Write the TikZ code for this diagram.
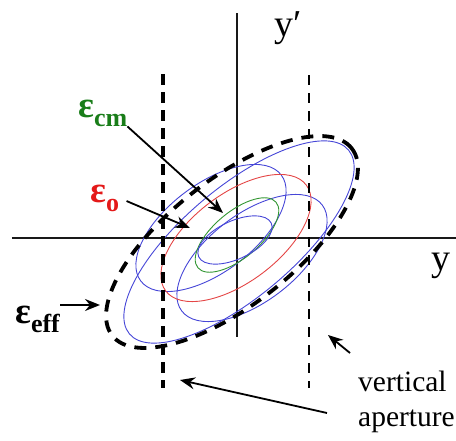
\documentclass[tikz,border=0pt]{standalone}
\usepackage{fontspec}
\setmainfont{Liberation Serif}
\usetikzlibrary{arrows.meta}
\definecolor{ellblue}{RGB}{70,70,215}
\definecolor{ellred}{RGB}{228,70,70}
\definecolor{ellgreen}{RGB}{50,150,50}
\definecolor{labgreen}{RGB}{25,125,25}
\definecolor{labred}{RGB}{228,25,25}
\newcommand{\emitlabel}[1]{{\bfseries\fontsize{37}{37}\selectfont ε\lower9pt\hbox{\fontsize{26}{26}\selectfont #1}}}

\begin{document}
\begin{tikzpicture}[x=1pt,y=1pt,
  axis/.style={line width=1.8pt, black!90},
  beam/.style={line width=0.9pt},
  envel/.style={line width=3.8pt, dash pattern=on 12pt off 9pt},
  apleft/.style={line width=3.4pt, dash pattern=on 11pt off 7pt},
  apright/.style={line width=1.8pt, dash pattern=on 10pt off 8pt},
  pointer/.style={line width=1.8pt, -{Stealth[length=15pt,width=12pt,inset=5pt]}},
  lbl/.style={inner sep=0pt}]
  \useasboundingbox (-237,-202) rectangle (219,238);
  % axes
  \coordinate (xl) at (-225,0);
  \coordinate (xr) at (219,0);
  \coordinate (yt) at (0,225);
  \coordinate (yb) at (0,-99);
  \draw[axis] (xl) -- (xr);
  \draw[axis] (yt) -- (yb);
  \node[lbl, font=\fontsize{38}{38}\selectfont] (ylab) at (204,-28) {y};
  \node[lbl, font=\fontsize{38}{38}\selectfont] (yplab) at (51,210) {y′};

  % beam ellipses
  \draw[ellblue, beam] (2,-4) ellipse [x radius=143, y radius=55, rotate=40];
  \draw[ellblue, beam] (-26,10) ellipse [x radius=88, y radius=44, rotate=37];
  \draw[ellblue, beam] (15,-20) ellipse [x radius=88, y radius=44, rotate=37];
  \draw[ellred, beam] (-1,0) ellipse [x radius=88, y radius=44, rotate=37];
  \draw[ellgreen, beam] (0,3) ellipse [x radius=51, y radius=23, rotate=40];
  \draw[ellblue, beam] (-2,-2) ellipse [x radius=40, y radius=19, rotate=25];
  \draw[envel] (-5,-4) ellipse [x radius=152, y radius=63, rotate=38];

  % vertical aperture
  \coordinate (al1) at (-74,164);
  \coordinate (al2) at (-74,-150);
  \coordinate (ar1) at (72,163);
  \coordinate (ar2) at (72,-150);
  \draw[apleft] (al1) -- (al2);
  \draw[apright] (ar1) -- (ar2);

  % labels
  \node[lbl, anchor=base west, text=labgreen] (ecm) at (-159,121) {\emitlabel{cm}};
  \node[lbl, anchor=base west, text=labred] (eo) at (-147,36) {\emitlabel{o}};
  \node[lbl, anchor=base west] (eeff) at (-222,-85) {\emitlabel{eff}};
  \coordinate (tcm) at (-14,25);
  \coordinate (to) at (-47,10);
  \coordinate (teff) at (-137,-67);
  \draw[pointer] (ecm.south east) -- (tcm);
  \draw[pointer, shorten <=8pt] (eo.east) -- (to);
  \draw[pointer] (eeff.east |- teff) -- (teff);

  \node[lbl, anchor=north west, align=left, font=\fontsize{29.5}{35}\selectfont] (ap) at (121,-133) {vertical\\aperture};
  \coordinate (ash) at (113,-115);
  \coordinate (atip1) at (91,-97);
  \coordinate (alg) at (90,-175);
  \coordinate (atip2) at (-57,-142);
  \draw[pointer] (ash) -- (atip1);
  \draw[pointer] (alg) -- (atip2);
\end{tikzpicture}
\end{document}
